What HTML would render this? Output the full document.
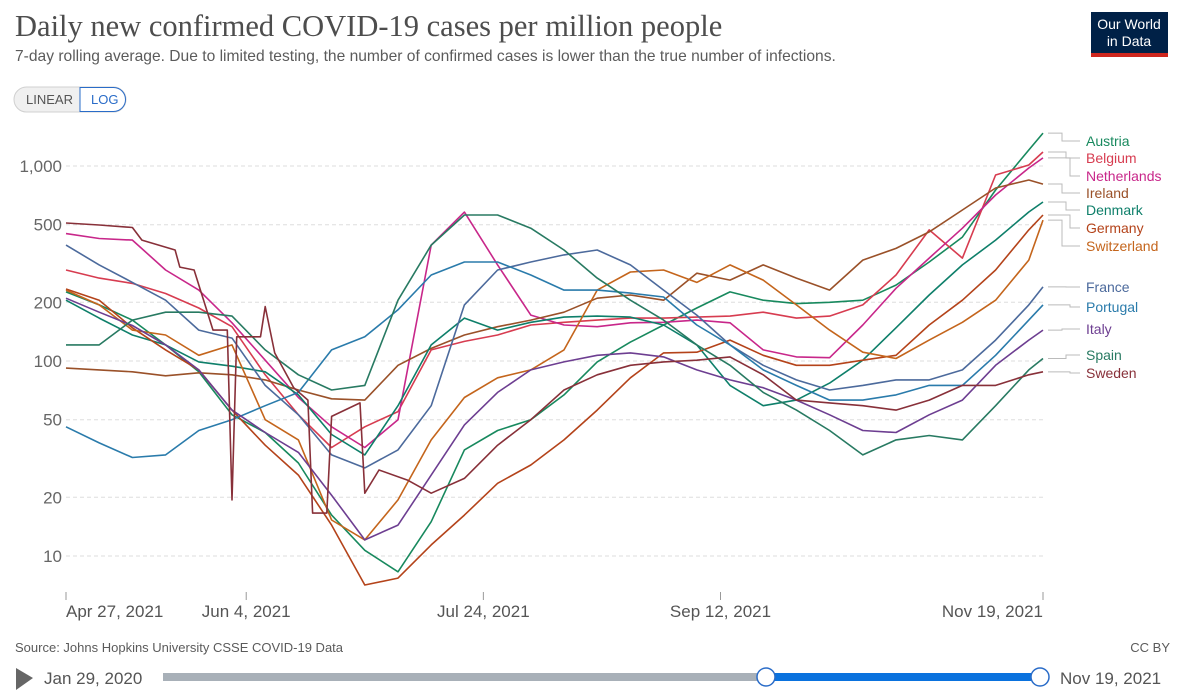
<!DOCTYPE html>
<html><head><meta charset="utf-8">
<style>
body{margin:0;background:#fff;width:1187px;height:695px;overflow:hidden;font-family:"Liberation Sans",sans-serif;}
svg{position:absolute;left:0;top:0}
</style></head>
<body>
<svg id="chart" width="1187" height="695">
  <text x="15" y="36" font-family="Liberation Serif, serif" font-size="30.5" fill="#4d4d4d">Daily new confirmed COVID-19 cases per million people</text>
  <text x="15" y="61" font-size="15.6" fill="#5b5b5b">7-day rolling average. Due to limited testing, the number of confirmed cases is lower than the true number of infections.</text>
  <g>
    <rect x="14" y="87" width="112" height="25" rx="12.5" fill="#f0f0f0" stroke="#d0d0d0"/>
    <path d="M80,87.5 H113.5 A12,12 0 0 1 113.5,111.5 H80 Z" fill="#fff" stroke="#2a6cc8"/>
    <text x="26" y="104" font-size="13" fill="#555">LINEAR</text>
    <text x="91" y="104" font-size="13" fill="#2a6cc8">LOG</text>
  </g>
  <g>
    <rect x="1091" y="12" width="77" height="45" fill="#002147"/>
    <rect x="1091" y="53" width="77" height="4" fill="#ce261e"/>
    <text x="1129" y="29" font-size="14" fill="#fff" text-anchor="middle">Our World</text>
    <text x="1129" y="46" font-size="14" fill="#fff" text-anchor="middle">in Data</text>
  </g>
  <g id="grid"></g>
  <g id="xaxis"></g>
  <g id="series"></g>
  <g id="legend"></g>
  <text x="15" y="652" font-size="13" fill="#5b5b5b">Source: Johns Hopkins University CSSE COVID-19 Data</text>
  <text x="1170" y="652" font-size="13" fill="#5b5b5b" text-anchor="end">CC BY</text>
  <g>
    <path d="M16,668 L33,678 L16,690 Z" fill="#666"/>
    <text x="44" y="684" font-size="17" fill="#555">Jan 29, 2020</text>
    <line x1="163" y1="677" x2="766" y2="677" stroke="#a8b0b8" stroke-width="8"/>
    <line x1="766" y1="677" x2="1040" y2="677" stroke="#0a72de" stroke-width="8"/>
    <circle cx="766" cy="677" r="9" fill="#fff" stroke="#2a6cc8" stroke-width="1.5"/>
    <circle cx="1040" cy="677" r="9" fill="#fff" stroke="#2a6cc8" stroke-width="1.5"/>
    <text x="1060" y="684" font-size="17" fill="#555">Nov 19, 2021</text>
  </g>
</svg>
<script>
// day offsets from Apr 27, 2021
const days = [0,7,14,21,28,35,42,49,56,63,70,77,84,91,98,105,112,119,126,133,140,147,154,161,168,175,182,189,196,203,206];
const countries = ["Austria","Belgium","Netherlands","Ireland","Denmark","Germany","Switzerland","France","Portugal","Italy","Spain","Sweden"];
const austria = [226,194,162,121,88,53,43,30,16.2,10.7,8.3,15,35,44,50,67,99,125,153,187,226,205,197,200,205,245,322,432,753,1208,1475];
const belgium = [293,266,250,222,187,150,85,53,36,46,55,114,126,136,153,158,162,166,166,168,170,178,166,170,194,276,470,337,899,1012,1180];
const netherlands = [450,425,417,293,231,157,101,65,46,36,50,393,580,311,172,153,150,157,158,162,157,114,105,104,153,236,337,480,710,977,1100];
const ireland = [92,90,88,84,87,85,80,71,64,63,95,116,136,150,162,178,210,218,205,282,260,311,266,231,329,378,459,595,771,848,808];
const denmark = [205,166,136,121,99,94,88,67,42,33,59,121,166,144,158,168,170,168,153,121,75,59,63,77,101,148,218,311,417,581,654];
const germany = [234,205,148,114,90,56,37,26,14.4,7.1,7.7,11.4,16.2,23.6,29.3,39.4,56,82,110,111,128,107,95,95,101,107,153,205,293,470,561];
const switzerland = [231,194,144,136,107,121,50,39.4,15.3,12.1,19.4,39.4,65,82,90,114,231,286,293,253,311,260,194,144,111,103,128,158,205,329,528];
const france = [393,311,253,205,144,131,75,53,33,28.3,35,59,194,293,322,350,371,311,231,172,121,95,80,71,75,80,80,90,128,194,240];
const portugal = [46,38,32,33,44,50,59,69,114,133,183,276,322,322,276,231,231,223,213,153,121,90,75,63,63,67,75,75,107,162,194];
const italy = [210,178,152,121,90,56,43,34,20.5,12.1,14.4,26,47,69,90,99,107,110,105,90,80,73,63,53,44,43,53,63,95,128,144];
const spain = [121,121,162,178,178,170,114,85,71,75,205,393,561,561,480,371,266,205,162,121,95,69,56,44,33,39.4,41.5,39.4,59,90,103];
const swedenDays = [0,7,14,16,23,24,27,31,34,35,36,41,42,44,48,51,52,55,56,62,63,66,72,77,84,91,98,105,112,119,126,133,140,147,154,161,168,175,182,189,196,203,206];
const sweden = [510,498,484,417,371,303,293,144,144,19.4,133,133,190,110,73,63,16.6,16.6,52,61,21,27.6,24.5,21,25,37,50,71,85,95,99,101,105,85,63,61,59,56,63,75,75,85,88];
const yTicks = [10,20,50,100,200,500,1000];
const yTickLabels = ["10","20","50","100","200","500","1,000"];
const xTickDays = [0,38,88,138,206];
const xTickLabels = ["Apr 27, 2021","Jun 4, 2021","Jul 24, 2021","Sep 12, 2021","Nov 19, 2021"];

const NS="http://www.w3.org/2000/svg";
const X0=66,X1=1043,D1=206,YTOP=166,DEC=195;
function x(d){return X0+(X1-X0)*d/D1;}
function y(v){return YTOP+(3-Math.log10(v))*DEC;}
function mk(tag,attrs,parent){const e=document.createElementNS(NS,tag);for(const k in attrs)e.setAttribute(k,attrs[k]);parent.appendChild(e);return e;}

const grid=document.getElementById('grid');
yTicks.forEach((t,i)=>{
  const l=mk('line',{x1:X0,x2:X1,y1:y(t),y2:y(t),stroke:'#ddd','stroke-dasharray':'4,3'},grid);
  
  
  const tx=mk('text',{x:62,y:y(t)+6,'font-size':17,fill:'#666','text-anchor':'end'},grid);
  tx.textContent=yTickLabels[i];
  
  
});
const xa=document.getElementById('xaxis');
xTickDays.forEach((d,i)=>{
  const tk=mk('line',{x1:x(d),x2:x(d),y1:592,y2:600,stroke:'#999'},xa);
  
  
  const anchor=i===0?'start':(i===xTickDays.length-1?'end':'middle');
  const tx=mk('text',{x:x(d),y:617,'font-size':17,fill:'#555','text-anchor':anchor},xa);
  tx.textContent=xTickLabels[i];
  
  
});

const seriesData=[austria,belgium,netherlands,ireland,denmark,germany,switzerland,france,portugal,italy,spain,sweden];
const colors=["#18895e","#d73c50","#c8278a","#9a5129","#0e7f6a","#b4431a","#c4651c","#4c6a9c","#2a7bab","#6d3e91","#287a62","#883039"];
const labelY=[141,158,176,193,210,228,246,287,307,329,355,373];
const sg=document.getElementById('series'), lg=document.getElementById('legend');
seriesData.forEach((vals,i)=>{
  const dd = i===11 ? swedenDays : days;
  const pts=vals.map((v,j)=>x(dd[j]).toFixed(1)+','+y(v).toFixed(1)).join(' ');
  const pl=mk('polyline',{points:pts,fill:'none',stroke:colors[i],'stroke-width':1.6,'stroke-linejoin':'round'},sg);
  
  
  const ye=y(vals[vals.length-1]);
  const ex=1062+(i%3)*4;
  const c=mk('polyline',{points:`1048,${ye} ${ex},${ye} ${ex},${labelY[i]} 1080,${labelY[i]}`,fill:'none',stroke:'#bbb','stroke-width':1},lg);
  
  
  const t=mk('text',{x:1086,y:labelY[i]+5,'font-size':14,fill:colors[i]},lg);
  t.textContent=countries[i];
  
  
});
</script>
</body></html>
